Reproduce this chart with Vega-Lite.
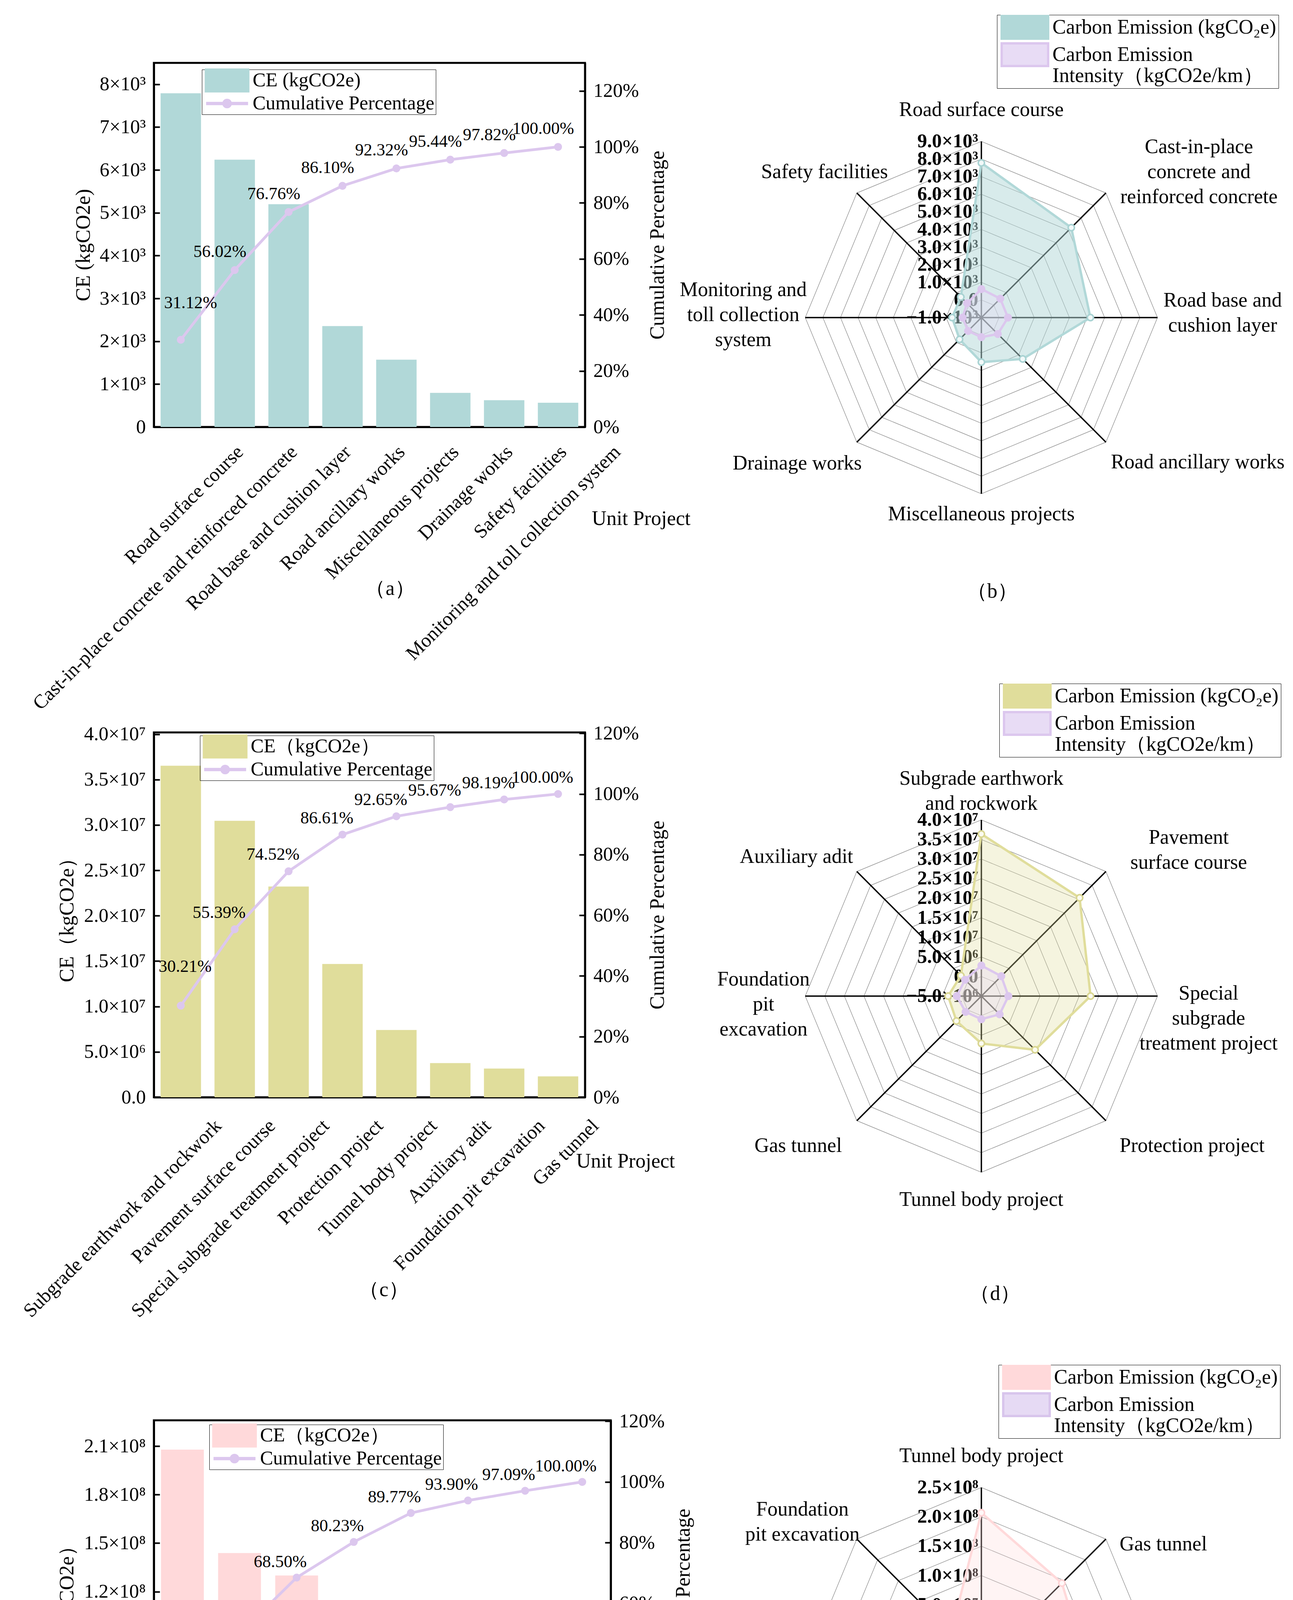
{
  "$schema": "https://vega.github.io/schema/vega-lite/v6.json",
  "background": "white",
  "padding": {"left": 48, "top": 37, "right": 0, "bottom": 0},
  "bounds": "flush",
  "columns": 2,
  "spacing": {"row": 0, "column": 498},
  "resolve": {"scale": {"color": "independent", "fill": "independent", "stroke": "independent"}, "legend": {"color": "independent", "fill": "independent", "stroke": "independent"}},
  "config": {
    "font": "Liberation Serif",
    "view": {"stroke": "#000000", "strokeWidth": 5},
    "axis": {
      "labelFont": "Liberation Serif", "titleFont": "Liberation Serif",
      "labelFontSize": 50, "titleFontSize": 52, "titleFontWeight": "normal",
      "labelColor": "#000000", "titleColor": "#000000",
      "domainColor": "#000000", "domainWidth": 5,
      "tickColor": "#000000", "tickWidth": 4, "grid": false, "labelLimit": 0
    },
    "legend": {"labelFont": "Liberation Serif", "labelColor": "#000000", "labelLimit": 0, "strokeColor": "#000000"},
    "text": {"font": "Liberation Serif", "color": "#000000"}
  },
  "datasets": {
    "a": [
      {"unit": "Road surface course", "ce": 7790, "cum": 31.12},
      {"unit": "Cast-in-place concrete and reinforced concrete", "ce": 6240, "cum": 56.02},
      {"unit": "Road base and cushion layer", "ce": 5200, "cum": 76.76},
      {"unit": "Road ancillary works", "ce": 2355, "cum": 86.10},
      {"unit": "Miscellaneous projects", "ce": 1570, "cum": 92.32},
      {"unit": "Drainage works", "ce": 795, "cum": 95.44},
      {"unit": "Safety facilities", "ce": 625, "cum": 97.82},
      {"unit": "Monitoring and toll collection system", "ce": 565, "cum": 100.00}
    ],
    "c": [
      {"unit": "Subgrade earthwork and rockwork", "ce": 36530000, "cum": 30.21},
      {"unit": "Pavement surface course", "ce": 30460000, "cum": 55.39},
      {"unit": "Special subgrade treatment project", "ce": 23220000, "cum": 74.52},
      {"unit": "Protection project", "ce": 14690000, "cum": 86.61},
      {"unit": "Tunnel body project", "ce": 7410000, "cum": 92.65},
      {"unit": "Auxiliary adit", "ce": 3770000, "cum": 95.67},
      {"unit": "Foundation pit excavation", "ce": 3160000, "cum": 98.19},
      {"unit": "Gas tunnel", "ce": 2300000, "cum": 100.00}
    ],
    "e": [
      {"unit": "Subgrade earthwork and rockwork", "ce": 207900000, "cum": 29.59},
      {"unit": "Pavement surface course", "ce": 143900000, "cum": 50.05},
      {"unit": "Special subgrade treatment project", "ce": 130000000, "cum": 68.50},
      {"unit": "Protection project", "ce": 82800000, "cum": 80.23},
      {"unit": "Tunnel body project", "ce": 67300000, "cum": 89.77},
      {"unit": "Auxiliary adit", "ce": 29400000, "cum": 93.90},
      {"unit": "Foundation pit excavation", "ce": 23200000, "cum": 97.09},
      {"unit": "Gas tunnel", "ce": 21200000, "cum": 100.00}
    ],
    "b": [
      {"i": 0, "unit": "Road surface course", "ce": 7780, "ci": 620},
      {"i": 1, "unit": "Cast-in-place\nconcrete and\nreinforced concrete", "ce": 6220, "ci": 520},
      {"i": 2, "unit": "Road base and\ncushion layer", "ce": 5190, "ci": 510},
      {"i": 3, "unit": "Road ancillary works", "ce": 2320, "ci": 320},
      {"i": 4, "unit": "Miscellaneous projects", "ce": 1530, "ci": 110},
      {"i": 5, "unit": "Drainage works", "ce": 750, "ci": 70},
      {"i": 6, "unit": "Monitoring and\ntoll collection\nsystem", "ce": 660, "ci": 70},
      {"i": 7, "unit": "Safety facilities", "ce": 650, "ci": 150}
    ],
    "d": [
      {"i": 0, "unit": "Subgrade earthwork\nand rockwork", "ce": 36400000, "ci": 2800000},
      {"i": 1, "unit": "Pavement\nsurface course", "ce": 30500000, "ci": 2200000},
      {"i": 2, "unit": "Special\nsubgrade\ntreatment project", "ce": 22900000, "ci": 1900000},
      {"i": 3, "unit": "Protection project", "ce": 14400000, "ci": 1600000},
      {"i": 4, "unit": "Tunnel body project", "ce": 7100000, "ci": 900000},
      {"i": 5, "unit": "Gas tunnel", "ce": 4000000, "ci": 700000},
      {"i": 6, "unit": "Foundation\npit\nexcavation", "ce": 3500000, "ci": 1300000},
      {"i": 7, "unit": "Auxiliary adit", "ce": 2400000, "ci": 900000}
    ],
    "f": [
      {"i": 0, "unit": "Tunnel body project", "ce": 207000000, "ci": 18000000},
      {"i": 1, "unit": "Gas tunnel", "ce": 144000000, "ci": 14500000},
      {"i": 2, "unit": "Monitoring and\ntoll collection\nsystem", "ce": 129000000, "ci": 15000000},
      {"i": 3, "unit": "Protection project", "ce": 83000000, "ci": 8500000},
      {"i": 4, "unit": "Communication pipeline\nand communication system", "ce": 68000000, "ci": 6000000},
      {"i": 5, "unit": "Ventilation and\nfire-fighting facilities", "ce": 32000000, "ci": 4000000},
      {"i": 6, "unit": "Safety\nfacilities", "ce": 25000000, "ci": 3300000},
      {"i": 7, "unit": "Foundation\npit excavation", "ce": 23000000, "ci": 4000000}
    ],
    "bt": [
      {"k": 0, "label": "−1.0×10³"}, {"k": 1, "label": "0.0"}, {"k": 2, "label": "1.0×10³"},
      {"k": 3, "label": "2.0×10³"}, {"k": 4, "label": "3.0×10³"}, {"k": 5, "label": "4.0×10³"},
      {"k": 6, "label": "5.0×10³"}, {"k": 7, "label": "6.0×10³"}, {"k": 8, "label": "7.0×10³"},
      {"k": 9, "label": "8.0×10³"}, {"k": 10, "label": "9.0×10³"}
    ],
    "dt": [
      {"k": 0, "label": "−5.0×10⁶"}, {"k": 1, "label": "0.0"}, {"k": 2, "label": "5.0×10⁶"},
      {"k": 3, "label": "1.0×10⁷"}, {"k": 4, "label": "1.5×10⁷"}, {"k": 5, "label": "2.0×10⁷"},
      {"k": 6, "label": "2.5×10⁷"}, {"k": 7, "label": "3.0×10⁷"}, {"k": 8, "label": "3.5×10⁷"},
      {"k": 9, "label": "4.0×10⁷"}
    ],
    "ft": [
      {"k": 0, "label": "−5.0×10⁷"}, {"k": 1, "label": "0.0"}, {"k": 2, "label": "5.0×10⁷"},
      {"k": 3, "label": "1.0×10⁸"}, {"k": 4, "label": "1.5×10⁸"}, {"k": 5, "label": "2.0×10⁸"},
      {"k": 6, "label": "2.5×10⁸"}
    ]
  },
  "concat": [
    {
      "width": 1104, "height": 932,
      "data": {"name": "a"},
      "encoding": {
        "x": {"field": "unit", "type": "nominal", "sort": null,
          "scale": {"paddingInner": 0.25, "paddingOuter": 0.125},
          "axis": {"title": "Unit Project", "titleX": 1121, "titleY": 234, "titleAlign": "left", "titleBaseline": "middle", "titleAngle": 0,
            "labelAngle": -45, "labelAlign": "right", "labelBaseline": "middle", "labelOffset": 152, "labelPadding": 74,
            "tickSize": -18, "labelOverlap": false, "labelBound": false, "labelFlush": false}}
      },
      "layer": [
        {"layer": [
          {"mark": {"type": "bar"},
           "encoding": {
             "y": {"field": "ce", "type": "quantitative", "scale": {"domain": [0, 8500], "nice": false},
               "axis": {"title": "CE (kgCO2e)", "values": [0, 1000, 2000, 3000, 4000, 5000, 6000, 7000, 8000],
                 "labelExpr": "datum.value == 0 ? '0' : (datum.value / 1000) + '×10³'", "tickSize": -15, "labelPadding": 36, "titlePadding": 14}},
             "color": {"datum": "CE (kgCO2e)",
               "scale": {"domain": ["CE (kgCO2e)", "Cumulative Percentage"], "range": ["#B1D8D8", "#DCC7EE"]},
               "legend": {"title": null, "orient": "none", "legendX": 123, "legendY": 17, "direction": "vertical",
                 "symbolType": "M-2.825,-1.5H2.825V1.5H-2.825Z", "symbolSize": 1600, "symbolOffset": 36.5, "labelFontSize": 50, "labelOffset": 40.5,
                 "rowPadding": 1, "padding": 3, "strokeColor": "#000000",
                 "encode": {"symbols": {"update": {
                   "shape": {"signal": "datum.value == 'Cumulative Percentage' ? 'M-2.65,-0.175H2.65V0.175H-2.65Z M0.575,0A0.575,0.575 0 1,1 -0.575,0A0.575,0.575 0 1,1 0.575,0Z' : 'M-2.825,-1.5H2.825V1.5H-2.825Z'"}}}}}}
           }},
          {"transform": [{"filter": "datum.cum < 40"}],
           "mark": {"type": "text", "fontSize": 52, "dx": -16, "baseline": "middle"},
           "encoding": {"x": {"datum": "Miscellaneous projects"}, "y": {"datum": -3776}, "text": {"value": "（a）"}}}
        ]},
        {"layer": [
          {"mark": {"type": "line", "strokeWidth": 7},
           "encoding": {
             "y": {"field": "cum", "type": "quantitative", "scale": {"domain": [0, 130], "nice": false},
               "axis": {"orient": "right", "title": "Cumulative Percentage", "values": [0, 20, 40, 60, 80, 100, 120],
                 "labelExpr": "datum.value + '%'", "tickSize": -15, "labelPadding": 36, "titlePadding": 23, "titleAngle": 270, "titleBaseline": "top"}},
             "color": {"datum": "Cumulative Percentage"}
           }},
          {"mark": {"type": "point", "filled": true, "size": 415, "color": "#DCC7EE", "opacity": 1},
           "encoding": {"y": {"field": "cum", "type": "quantitative"}}},
          {"transform": [{"calculate": "format(datum.cum, '.2f') + '%'", "as": "lab"}, {"filter": "datum.cum < 40"}],
           "mark": {"type": "text", "fontSize": 44, "dx": 25, "dy": -94},
           "encoding": {"y": {"field": "cum", "type": "quantitative"}, "text": {"field": "lab"}}},
          {"transform": [{"calculate": "format(datum.cum, '.2f') + '%'", "as": "lab"}, {"filter": "datum.cum >= 40"}],
           "mark": {"type": "text", "fontSize": 44, "dx": -38, "dy": -46},
           "encoding": {"y": {"field": "cum", "type": "quantitative"}, "text": {"field": "lab"}}}
        ]}
      ],
      "resolve": {"scale": {"y": "independent"}}
    },
    {
      "width": 902, "height": 1714,
      "view": {"stroke": null},
      "encoding": {
        "x": {"field": "x", "type": "quantitative", "scale": {"domain": [-1, 1], "nice": false, "zero": false}, "axis": null},
        "y": {"field": "y", "type": "quantitative", "scale": {"domain": [-2.3547, 1.4457], "nice": false, "zero": false}, "axis": null}
      },
      "layer": [
        {"data": {"name": "bt"},
         "transform": [{"filter": "datum.k > 0"}, {"calculate": "[0,1,2,3,4,5,6,7]", "as": "v"}, {"flatten": ["v"]},
           {"calculate": "datum.k / 10 * sin(datum.v * PI / 4)", "as": "x"}, {"calculate": "datum.k / 10 * cos(datum.v * PI / 4)", "as": "y"}],
         "mark": {"type": "line", "interpolate": "linear-closed", "stroke": "#8c8c8c", "strokeWidth": 1.3},
         "encoding": {"detail": {"field": "k"}, "order": {"field": "v", "type": "quantitative"}}},
        {"data": {"name": "b"},
         "transform": [{"calculate": "sin(datum.i * PI / 4)", "as": "x"}, {"calculate": "cos(datum.i * PI / 4)", "as": "y"}],
         "mark": {"type": "rule", "color": "#000000", "strokeWidth": 3.5},
         "encoding": {"x2": {"datum": 0}, "y2": {"datum": 0}}},
        {"data": {"name": "bt"},
         "transform": [{"calculate": "0", "as": "x"}, {"calculate": "datum.k / 10", "as": "y"}],
         "mark": {"type": "text", "align": "right", "baseline": "middle", "dx": -8, "fontSize": 50, "fontWeight": "bold"},
         "encoding": {"text": {"field": "label"}}},
        {"data": {"name": "b"},
         "transform": [{"filter": "datum.i == 0"}, {"calculate": "0", "as": "x"}, {"calculate": "1.12", "as": "y"}],
         "mark": {"type": "text", "align": "center", "baseline": "bottom", "fontSize": 52, "lineBreak": "\n", "lineHeight": 64},
         "encoding": {"text": {"field": "unit"}}},
        {"data": {"name": "b"},
         "transform": [{"filter": "datum.i == 4"}, {"calculate": "0", "as": "x"}, {"calculate": "-1.06", "as": "y"}],
         "mark": {"type": "text", "align": "center", "baseline": "top", "fontSize": 52, "lineBreak": "\n", "lineHeight": 64},
         "encoding": {"text": {"field": "unit"}}},
        {"data": {"name": "b"},
         "transform": [{"calculate": "length(split(datum.unit, '\\n'))", "as": "n"}, {"filter": "datum.i >= 1 && datum.i <= 3 && datum.n == 1"},
           {"calculate": "sin(datum.i * PI / 4) * 1.04", "as": "x"},
           {"calculate": "cos(datum.i * PI / 4) * 1.16", "as": "y"}],
         "mark": {"type": "text", "align": "left", "baseline": "middle", "fontSize": 52},
         "encoding": {"text": {"field": "unit"}}},
        {"data": {"name": "b"},
         "transform": [{"calculate": "length(split(datum.unit, '\\n'))", "as": "n"}, {"filter": "datum.i >= 5 && datum.n == 1"},
           {"calculate": "sin(datum.i * PI / 4) * (datum.i == 7 ? 0.75 : 0.96)", "as": "x"},
           {"calculate": "cos(datum.i * PI / 4) * 1.17", "as": "y"}],
         "mark": {"type": "text", "align": "right", "baseline": "middle", "fontSize": 52},
         "encoding": {"text": {"field": "unit"}}},
        {"data": {"name": "b"},
         "transform": [{"calculate": "length(split(datum.unit, '\\n'))", "as": "n"}, {"filter": "datum.i != 0 && datum.i != 4 && datum.n > 1"},
           {"calculate": "sin(datum.i * PI / 4) * (datum.i == 1 ? 1.747 : datum.i == 2 ? 1.37 : 1.352)", "as": "x"},
           {"calculate": "(datum.i == 1 ? 0.827 : datum.i == 2 ? 0.027 : 0.016) + 0.0709 * (datum.n - 1)", "as": "y"}],
         "mark": {"type": "text", "align": "center", "baseline": "middle", "fontSize": 52, "lineBreak": "\n", "lineHeight": 64},
         "encoding": {"text": {"field": "unit"}}},
        {"data": {"name": "b"},
         "transform": [{"calculate": "(datum.ce + 1000) / 10000", "as": "r"},
           {"calculate": "datum.r * sin(datum.i * PI / 4)", "as": "x"}, {"calculate": "datum.r * cos(datum.i * PI / 4)", "as": "y"}],
         "mark": {"type": "line", "interpolate": "linear-closed", "fillOpacity": 0.5, "strokeWidth": 6},
         "encoding": {"order": {"field": "i", "type": "quantitative"},
           "fill": {"datum": "Carbon Emission (kgCO₂e)",
             "scale": {"domain": ["Carbon Emission (kgCO₂e)", "Carbon Emission Intensity（kgCO2e/km）"], "range": ["#B1D8D8", "#E8DCF5"]},
             "legend": {"title": null, "orient": "none", "legendX": 491, "legendY": -123, "direction": "vertical",
               "symbolType": "M-2.975,-1.45H2.975V1.45H-2.975Z", "symbolSize": 1600, "symbolStrokeWidth": 6, "symbolOffset": 39.5,
               "labelFontSize": 52, "labelOffset": 44.5, "rowPadding": -12, "padding": 6, "strokeColor": "#000000",
               "labelExpr": "datum.value == 'Carbon Emission (kgCO₂e)' ? datum.label : ['Carbon Emission', 'Intensity（kgCO2e/km）']",
               "encode": {"labels": {"update": {"dy": {"signal": "datum.value == 'Carbon Emission (kgCO₂e)' ? 0 : 32"}}}}}},
           "stroke": {"datum": "Carbon Emission (kgCO₂e)",
             "scale": {"domain": ["Carbon Emission (kgCO₂e)", "Carbon Emission Intensity（kgCO2e/km）"], "range": ["#B1D8D8", "#DCC7EE"]}}}},
        {"data": {"name": "b"},
         "transform": [{"calculate": "(datum.ce + 1000) / 10000", "as": "r"},
           {"calculate": "datum.r * sin(datum.i * PI / 4)", "as": "x"}, {"calculate": "datum.r * cos(datum.i * PI / 4)", "as": "y"}],
         "mark": {"type": "point", "filled": false, "fill": "#F2F9F9", "stroke": "#A9D3D3", "strokeWidth": 4, "size": 260, "opacity": 1}},
        {"data": {"name": "b"},
         "transform": [{"calculate": "(datum.ci + 1000) / 10000", "as": "r"},
           {"calculate": "datum.r * sin(datum.i * PI / 4)", "as": "x"}, {"calculate": "datum.r * cos(datum.i * PI / 4)", "as": "y"}],
         "mark": {"type": "line", "interpolate": "linear-closed", "fillOpacity": 0.4, "strokeWidth": 6},
         "encoding": {"order": {"field": "i", "type": "quantitative"},
           "fill": {"datum": "Carbon Emission Intensity（kgCO2e/km）"}, "stroke": {"datum": "Carbon Emission Intensity（kgCO2e/km）"}}},
        {"data": {"name": "b"},
         "transform": [{"calculate": "(datum.ci + 1000) / 10000", "as": "r"},
           {"calculate": "datum.r * sin(datum.i * PI / 4)", "as": "x"}, {"calculate": "datum.r * cos(datum.i * PI / 4)", "as": "y"}],
         "mark": {"type": "point", "filled": true, "color": "#DCC7EE", "size": 420, "opacity": 1}},
        {"data": {"name": "b"}, "transform": [{"filter": "datum.i == 0"}, {"calculate": "0.062", "as": "x"}, {"calculate": "-1.554", "as": "y"}],
         "mark": {"type": "text", "fontSize": 52, "baseline": "middle"},
         "encoding": {"text": {"value": "（b）"}}}
      ]
    },
    {
      "width": 1104, "height": 934,
      "data": {"name": "c"},
      "encoding": {
        "x": {"field": "unit", "type": "nominal", "sort": null,
          "scale": {"paddingInner": 0.25, "paddingOuter": 0.125},
          "axis": {"title": "Unit Project", "titleX": 1081, "titleY": 163, "titleAlign": "left", "titleBaseline": "middle", "titleAngle": 0,
            "labelAngle": -45, "labelAlign": "right", "labelBaseline": "middle", "labelOffset": 96, "labelPadding": 83,
            "tickSize": -18, "labelOverlap": false, "labelBound": false, "labelFlush": false}}
      },
      "layer": [
        {"layer": [
          {"mark": {"type": "bar"},
           "encoding": {
             "y": {"field": "ce", "type": "quantitative", "scale": {"domain": [0, 40200000], "nice": false},
               "axis": {"title": "CE（kgCO2e）", "values": [0, 5000000, 10000000, 15000000, 20000000, 25000000, 30000000, 35000000, 40000000],
                 "labelExpr": "datum.value == 0 ? '0.0' : datum.value < 10000000 ? format(datum.value / 1000000, '.1f') + '×10⁶' : format(datum.value / 10000000, '.1f') + '×10⁷'",
                 "tickSize": -15, "labelPadding": 36, "titlePadding": 16}},
             "color": {"datum": "CE（kgCO2e）",
               "scale": {"domain": ["CE（kgCO2e）", "Cumulative Percentage"], "range": ["#E0DD9B", "#DCC7EE"]},
               "legend": {"title": null, "orient": "none", "legendX": 118, "legendY": 8, "direction": "vertical",
                 "symbolType": "M-2.825,-1.5H2.825V1.5H-2.825Z", "symbolSize": 1600, "symbolOffset": 36.5, "labelFontSize": 50, "labelOffset": 40.5,
                 "rowPadding": 1, "padding": 3, "strokeColor": "#000000",
                 "encode": {"symbols": {"update": {
                   "shape": {"signal": "datum.value == 'Cumulative Percentage' ? 'M-2.65,-0.175H2.65V0.175H-2.65Z M0.575,0A0.575,0.575 0 1,1 -0.575,0A0.575,0.575 0 1,1 0.575,0Z' : 'M-2.825,-1.5H2.825V1.5H-2.825Z'"}}}}}}
           }},
          {"transform": [{"filter": "datum.cum < 40"}],
           "mark": {"type": "text", "fontSize": 52, "dx": -32, "baseline": "middle"},
           "encoding": {"x": {"datum": "Tunnel body project"}, "y": {"datum": -21220000}, "text": {"value": "（c）"}}}
        ]},
        {"layer": [
          {"mark": {"type": "line", "strokeWidth": 7},
           "encoding": {
             "y": {"field": "cum", "type": "quantitative", "scale": {"domain": [0, 120.3], "nice": false},
               "axis": {"orient": "right", "title": "Cumulative Percentage", "values": [0, 20, 40, 60, 80, 100, 120],
                 "labelExpr": "datum.value + '%'", "tickSize": -15, "labelPadding": 36, "titlePadding": 23, "titleAngle": 270, "titleBaseline": "top"}},
             "color": {"datum": "Cumulative Percentage"}
           }},
          {"mark": {"type": "point", "filled": true, "size": 415, "color": "#DCC7EE", "opacity": 1},
           "encoding": {"y": {"field": "cum", "type": "quantitative"}}},
          {"transform": [{"calculate": "format(datum.cum, '.2f') + '%'", "as": "lab"}, {"filter": "datum.cum < 40"}],
           "mark": {"type": "text", "fontSize": 44, "dx": 11, "dy": -99},
           "encoding": {"y": {"field": "cum", "type": "quantitative"}, "text": {"field": "lab"}}},
          {"transform": [{"calculate": "format(datum.cum, '.2f') + '%'", "as": "lab"}, {"filter": "datum.cum >= 40"}],
           "mark": {"type": "text", "fontSize": 44, "dx": -40, "dy": -42},
           "encoding": {"y": {"field": "cum", "type": "quantitative"}, "text": {"field": "lab"}}}
        ]}
      ],
      "resolve": {"scale": {"y": "independent"}}
    },
    {
      "width": 902, "height": 1761,
      "view": {"stroke": null},
      "encoding": {
        "x": {"field": "x", "type": "quantitative", "scale": {"domain": [-1, 1], "nice": false, "zero": false}, "axis": null},
        "y": {"field": "y", "type": "quantitative", "scale": {"domain": [-2.408, 1.4967], "nice": false, "zero": false}, "axis": null}
      },
      "layer": [
        {"data": {"name": "dt"},
         "transform": [{"filter": "datum.k > 0"}, {"calculate": "[0,1,2,3,4,5,6,7]", "as": "v"}, {"flatten": ["v"]},
           {"calculate": "datum.k / 9 * sin(datum.v * PI / 4)", "as": "x"}, {"calculate": "datum.k / 9 * cos(datum.v * PI / 4)", "as": "y"}],
         "mark": {"type": "line", "interpolate": "linear-closed", "stroke": "#8c8c8c", "strokeWidth": 1.3},
         "encoding": {"detail": {"field": "k"}, "order": {"field": "v", "type": "quantitative"}}},
        {"data": {"name": "d"},
         "transform": [{"calculate": "sin(datum.i * PI / 4)", "as": "x"}, {"calculate": "cos(datum.i * PI / 4)", "as": "y"}],
         "mark": {"type": "rule", "color": "#000000", "strokeWidth": 3.5},
         "encoding": {"x2": {"datum": 0}, "y2": {"datum": 0}}},
        {"data": {"name": "dt"},
         "transform": [{"calculate": "0", "as": "x"}, {"calculate": "datum.k / 9", "as": "y"}],
         "mark": {"type": "text", "align": "right", "baseline": "middle", "dx": -8, "fontSize": 50, "fontWeight": "bold"},
         "encoding": {"text": {"field": "label"}}},
        {"data": {"name": "d"},
         "transform": [{"filter": "datum.i == 0"}, {"calculate": "0", "as": "x"}, {"calculate": "1.175", "as": "y"}],
         "mark": {"type": "text", "align": "center", "baseline": "bottom", "fontSize": 52, "lineBreak": "\n", "lineHeight": 64},
         "encoding": {"text": {"field": "unit"}}},
        {"data": {"name": "d"},
         "transform": [{"filter": "datum.i == 4"}, {"calculate": "0", "as": "x"}, {"calculate": "-1.1", "as": "y"}],
         "mark": {"type": "text", "align": "center", "baseline": "top", "fontSize": 52, "lineBreak": "\n", "lineHeight": 64},
         "encoding": {"text": {"field": "unit"}}},
        {"data": {"name": "d"},
         "transform": [{"calculate": "length(split(datum.unit, '\\n'))", "as": "n"}, {"filter": "datum.i >= 1 && datum.i <= 3 && datum.n == 1"},
           {"calculate": "sin(datum.i * PI / 4) * 1.11", "as": "x"},
           {"calculate": "cos(datum.i * PI / 4) * 1.2", "as": "y"}],
         "mark": {"type": "text", "align": "left", "baseline": "middle", "fontSize": 52},
         "encoding": {"text": {"field": "unit"}}},
        {"data": {"name": "d"},
         "transform": [{"calculate": "length(split(datum.unit, '\\n'))", "as": "n"}, {"filter": "datum.i >= 5 && datum.n == 1"},
           {"calculate": "sin(datum.i * PI / 4) * (datum.i == 5 ? 1.12 : 1.03)", "as": "x"},
           {"calculate": "cos(datum.i * PI / 4) * (datum.i == 5 ? 1.2 : 1.12)", "as": "y"}],
         "mark": {"type": "text", "align": "right", "baseline": "middle", "fontSize": 52},
         "encoding": {"text": {"field": "unit"}}},
        {"data": {"name": "d"},
         "transform": [{"calculate": "length(split(datum.unit, '\\n'))", "as": "n"}, {"filter": "datum.i != 0 && datum.i != 4 && datum.n > 1"},
           {"calculate": "sin(datum.i * PI / 4) * (datum.i == 1 ? 1.665 : datum.i == 2 ? 1.29 : 1.237)", "as": "x"},
           {"calculate": "(datum.i == 1 ? 0.83 : datum.i == 2 ? -0.126 : -0.047) + 0.0709 * (datum.n - 1)", "as": "y"}],
         "mark": {"type": "text", "align": "center", "baseline": "middle", "fontSize": 52, "lineBreak": "\n", "lineHeight": 64},
         "encoding": {"text": {"field": "unit"}}},
        {"data": {"name": "d"},
         "transform": [{"calculate": "(datum.ce + 5000000) / 45000000", "as": "r"},
           {"calculate": "datum.r * sin(datum.i * PI / 4)", "as": "x"}, {"calculate": "datum.r * cos(datum.i * PI / 4)", "as": "y"}],
         "mark": {"type": "line", "interpolate": "linear-closed", "fillOpacity": 0.32, "strokeWidth": 6},
         "encoding": {"order": {"field": "i", "type": "quantitative"},
           "fill": {"datum": "Carbon Emission (kgCO₂e)",
             "scale": {"domain": ["Carbon Emission (kgCO₂e)", "Carbon Emission Intensity（kgCO2e/km）"], "range": ["#E0DD9B", "#E8DCF5"]},
             "legend": {"title": null, "orient": "none", "legendX": 497, "legendY": -125, "direction": "vertical",
               "symbolType": "M-2.975,-1.45H2.975V1.45H-2.975Z", "symbolSize": 1600, "symbolStrokeWidth": 6, "symbolOffset": 39.5,
               "labelFontSize": 52, "labelOffset": 44.5, "rowPadding": -12, "padding": 6, "strokeColor": "#000000",
               "labelExpr": "datum.value == 'Carbon Emission (kgCO₂e)' ? datum.label : ['Carbon Emission', 'Intensity（kgCO2e/km）']",
               "encode": {"labels": {"update": {"dy": {"signal": "datum.value == 'Carbon Emission (kgCO₂e)' ? 0 : 32"}}}}}},
           "stroke": {"datum": "Carbon Emission (kgCO₂e)",
             "scale": {"domain": ["Carbon Emission (kgCO₂e)", "Carbon Emission Intensity（kgCO2e/km）"], "range": ["#E0DD9B", "#DCC7EE"]}}}},
        {"data": {"name": "d"},
         "transform": [{"calculate": "(datum.ce + 5000000) / 45000000", "as": "r"},
           {"calculate": "datum.r * sin(datum.i * PI / 4)", "as": "x"}, {"calculate": "datum.r * cos(datum.i * PI / 4)", "as": "y"}],
         "mark": {"type": "point", "filled": false, "fill": "#FBFBF0", "stroke": "#D9D692", "strokeWidth": 4, "size": 260, "opacity": 1}},
        {"data": {"name": "d"},
         "transform": [{"calculate": "(datum.ci + 5000000) / 45000000", "as": "r"},
           {"calculate": "datum.r * sin(datum.i * PI / 4)", "as": "x"}, {"calculate": "datum.r * cos(datum.i * PI / 4)", "as": "y"}],
         "mark": {"type": "line", "interpolate": "linear-closed", "fillOpacity": 0.4, "strokeWidth": 6},
         "encoding": {"order": {"field": "i", "type": "quantitative"},
           "fill": {"datum": "Carbon Emission Intensity（kgCO2e/km）"}, "stroke": {"datum": "Carbon Emission Intensity（kgCO2e/km）"}}},
        {"data": {"name": "d"},
         "transform": [{"calculate": "(datum.ci + 5000000) / 45000000", "as": "r"},
           {"calculate": "datum.r * sin(datum.i * PI / 4)", "as": "x"}, {"calculate": "datum.r * cos(datum.i * PI / 4)", "as": "y"}],
         "mark": {"type": "point", "filled": true, "color": "#DCC7EE", "size": 420, "opacity": 1}},
        {"data": {"name": "d"}, "transform": [{"filter": "datum.i == 0"}, {"calculate": "0.078", "as": "x"}, {"calculate": "-1.69", "as": "y"}],
         "mark": {"type": "text", "fontSize": 52, "baseline": "middle"},
         "encoding": {"text": {"value": "（d）"}}}
      ]
    },
    {
      "width": 1170, "height": 935,
      "data": {"name": "e"},
      "encoding": {
        "x": {"field": "unit", "type": "nominal", "sort": null,
          "scale": {"paddingInner": 0.25, "paddingOuter": 0.125},
          "axis": {"title": "Unit Project", "titleX": 1139, "titleY": 215, "titleAlign": "left", "titleBaseline": "middle", "titleAngle": 0,
            "labelAngle": -45, "labelAlign": "right", "labelBaseline": "middle", "labelOffset": 106, "labelPadding": 80,
            "tickSize": -18, "labelOverlap": false, "labelBound": false, "labelFlush": false}}
      },
      "layer": [
        {"layer": [
          {"mark": {"type": "bar"},
           "encoding": {
             "y": {"field": "ce", "type": "quantitative", "scale": {"domain": [0, 226000000], "nice": false},
               "axis": {"title": "CE（kgCO2e）", "values": [0, 30000000, 60000000, 90000000, 120000000, 150000000, 180000000, 210000000],
                 "labelExpr": "datum.value == 0 ? '0.0' : datum.value < 100000000 ? format(datum.value / 10000000, '.1f') + '×10⁷' : format(datum.value / 100000000, '.1f') + '×10⁸'",
                 "tickSize": -15, "labelPadding": 36, "titlePadding": 16}},
             "color": {"datum": "CE（kgCO2e）",
               "scale": {"domain": ["CE（kgCO2e）", "Cumulative Percentage"], "range": ["#FFD9DA", "#DCC7EE"]},
               "legend": {"title": null, "orient": "none", "legendX": 142, "legendY": 11, "direction": "vertical",
                 "symbolType": "M-2.825,-1.5H2.825V1.5H-2.825Z", "symbolSize": 1600, "symbolOffset": 36.5, "labelFontSize": 50, "labelOffset": 40.5,
                 "rowPadding": 1, "padding": 3, "strokeColor": "#000000",
                 "encode": {"symbols": {"update": {
                   "shape": {"signal": "datum.value == 'Cumulative Percentage' ? 'M-2.65,-0.175H2.65V0.175H-2.65Z M0.575,0A0.575,0.575 0 1,1 -0.575,0A0.575,0.575 0 1,1 0.575,0Z' : 'M-2.825,-1.5H2.825V1.5H-2.825Z'"}}}}}}
           }},
          {"transform": [{"filter": "datum.cum < 40"}],
           "mark": {"type": "text", "fontSize": 52, "dx": -11, "baseline": "middle"},
           "encoding": {"x": {"datum": "Tunnel body project"}, "y": {"datum": -122800000}, "text": {"value": "（e）"}}}
        ]},
        {"layer": [
          {"mark": {"type": "line", "strokeWidth": 7},
           "encoding": {
             "y": {"field": "cum", "type": "quantitative", "scale": {"domain": [0, 120.3], "nice": false},
               "axis": {"orient": "right", "title": "Cumulative Percentage", "values": [0, 20, 40, 60, 80, 100, 120],
                 "labelExpr": "datum.value + '%'", "tickSize": -15, "labelPadding": 36, "titlePadding": 23, "titleAngle": 270, "titleBaseline": "top"}},
             "color": {"datum": "Cumulative Percentage"}
           }},
          {"mark": {"type": "point", "filled": true, "size": 415, "color": "#DCC7EE", "opacity": 1},
           "encoding": {"y": {"field": "cum", "type": "quantitative"}}},
          {"transform": [{"calculate": "format(datum.cum, '.2f') + '%'", "as": "lab"}, {"filter": "datum.cum < 40"}],
           "mark": {"type": "text", "fontSize": 44, "dx": 14, "dy": -91},
           "encoding": {"y": {"field": "cum", "type": "quantitative"}, "text": {"field": "lab"}}},
          {"transform": [{"calculate": "format(datum.cum, '.2f') + '%'", "as": "lab"}, {"filter": "datum.cum >= 40"}],
           "mark": {"type": "text", "fontSize": 44, "dx": -42, "dy": -40},
           "encoding": {"y": {"field": "cum", "type": "quantitative"}, "text": {"field": "lab"}}}
        ]}
      ],
      "resolve": {"scale": {"y": "independent"}}
    },
    {
      "width": 902, "height": 1100,
      "view": {"stroke": null},
      "encoding": {
        "x": {"field": "x", "type": "quantitative", "scale": {"domain": [-1, 1], "nice": false, "zero": false}, "axis": null},
        "y": {"field": "y", "type": "quantitative", "scale": {"domain": [-1.0576, 1.3814], "nice": false, "zero": false}, "axis": null}
      },
      "layer": [
        {"data": {"name": "ft"},
         "transform": [{"filter": "datum.k > 0"}, {"calculate": "[0,1,2,3,4,5,6,7]", "as": "v"}, {"flatten": ["v"]},
           {"calculate": "datum.k / 6 * sin(datum.v * PI / 4)", "as": "x"}, {"calculate": "datum.k / 6 * cos(datum.v * PI / 4)", "as": "y"}],
         "mark": {"type": "line", "interpolate": "linear-closed", "stroke": "#8c8c8c", "strokeWidth": 1.3},
         "encoding": {"detail": {"field": "k"}, "order": {"field": "v", "type": "quantitative"}}},
        {"data": {"name": "f"},
         "transform": [{"calculate": "sin(datum.i * PI / 4)", "as": "x"}, {"calculate": "cos(datum.i * PI / 4)", "as": "y"}],
         "mark": {"type": "rule", "color": "#000000", "strokeWidth": 3.5},
         "encoding": {"x2": {"datum": 0}, "y2": {"datum": 0}}},
        {"data": {"name": "ft"},
         "transform": [{"calculate": "0", "as": "x"}, {"calculate": "datum.k / 6", "as": "y"}],
         "mark": {"type": "text", "align": "right", "baseline": "middle", "dx": -8, "fontSize": 50, "fontWeight": "bold"},
         "encoding": {"text": {"field": "label"}}},
        {"data": {"name": "f"},
         "transform": [{"filter": "datum.i == 0"}, {"calculate": "0", "as": "x"}, {"calculate": "1.12", "as": "y"}],
         "mark": {"type": "text", "align": "center", "baseline": "bottom", "fontSize": 52, "lineBreak": "\n", "lineHeight": 64},
         "encoding": {"text": {"field": "unit"}}},
        {"data": {"name": "f"},
         "transform": [{"filter": "datum.i == 4"}, {"calculate": "0.06", "as": "x"}, {"calculate": "-1.05", "as": "y"}],
         "mark": {"type": "text", "align": "center", "baseline": "top", "fontSize": 52, "lineBreak": "\n", "lineHeight": 64},
         "encoding": {"text": {"field": "unit"}}},
        {"data": {"name": "f"},
         "transform": [{"calculate": "length(split(datum.unit, '\\n'))", "as": "n"}, {"filter": "datum.i >= 1 && datum.i <= 3 && datum.n == 1"},
           {"calculate": "sin(datum.i * PI / 4) * 1.11", "as": "x"},
           {"calculate": "cos(datum.i * PI / 4) * (datum.i == 1 ? 0.96 : 1.21)", "as": "y"}],
         "mark": {"type": "text", "align": "left", "baseline": "middle", "fontSize": 52},
         "encoding": {"text": {"field": "unit"}}},
        {"data": {"name": "f"},
         "transform": [{"calculate": "length(split(datum.unit, '\\n'))", "as": "n"}, {"filter": "datum.i != 0 && datum.i != 4 && datum.n > 1"},
           {"calculate": "sin(datum.i * PI / 4) * (datum.i == 2 ? 1.36 : datum.i == 5 ? 1.396 : datum.i == 6 ? 1.237 : 1.437)", "as": "x"},
           {"calculate": "(datum.i == 2 ? -0.027 : datum.i == 5 ? -0.913 : datum.i == 6 ? -0.06 : 0.805) + 0.0709 * (datum.n - 1)", "as": "y"}],
         "mark": {"type": "text", "align": "center", "baseline": "middle", "fontSize": 52, "lineBreak": "\n", "lineHeight": 64},
         "encoding": {"text": {"field": "unit"}}},
        {"data": {"name": "f"},
         "transform": [{"calculate": "(datum.ce + 50000000) / 300000000", "as": "r"},
           {"calculate": "datum.r * sin(datum.i * PI / 4)", "as": "x"}, {"calculate": "datum.r * cos(datum.i * PI / 4)", "as": "y"}],
         "mark": {"type": "line", "interpolate": "linear-closed", "fillOpacity": 0.3, "strokeWidth": 6},
         "encoding": {"order": {"field": "i", "type": "quantitative"},
           "fill": {"datum": "Carbon Emission (kgCO₂e)",
             "scale": {"domain": ["Carbon Emission (kgCO₂e)", "Carbon Emission Intensity（kgCO2e/km）"], "range": ["#FFD9DA", "#E6DAF4"]},
             "legend": {"title": null, "orient": "none", "legendX": 495, "legendY": -142, "direction": "vertical",
               "symbolType": "M-2.975,-1.45H2.975V1.45H-2.975Z", "symbolSize": 1600, "symbolStrokeWidth": 6, "symbolOffset": 39.5,
               "labelFontSize": 52, "labelOffset": 44.5, "rowPadding": -12, "padding": 6, "strokeColor": "#000000",
               "labelExpr": "datum.value == 'Carbon Emission (kgCO₂e)' ? datum.label : ['Carbon Emission', 'Intensity（kgCO2e/km）']",
               "encode": {"labels": {"update": {"dy": {"signal": "datum.value == 'Carbon Emission (kgCO₂e)' ? 0 : 32"}}}}}},
           "stroke": {"datum": "Carbon Emission (kgCO₂e)",
             "scale": {"domain": ["Carbon Emission (kgCO₂e)", "Carbon Emission Intensity（kgCO2e/km）"], "range": ["#FFD9DA", "#D8C5EC"]}}}},
        {"data": {"name": "f"},
         "transform": [{"calculate": "(datum.ce + 50000000) / 300000000", "as": "r"},
           {"calculate": "datum.r * sin(datum.i * PI / 4)", "as": "x"}, {"calculate": "datum.r * cos(datum.i * PI / 4)", "as": "y"}],
         "mark": {"type": "point", "filled": false, "fill": "#FFF8F8", "stroke": "#FFD3D5", "strokeWidth": 4, "size": 260, "opacity": 1}},
        {"data": {"name": "f"},
         "transform": [{"calculate": "(datum.ci + 50000000) / 300000000", "as": "r"},
           {"calculate": "datum.r * sin(datum.i * PI / 4)", "as": "x"}, {"calculate": "datum.r * cos(datum.i * PI / 4)", "as": "y"}],
         "mark": {"type": "line", "interpolate": "linear-closed", "fillOpacity": 0.4, "strokeWidth": 6},
         "encoding": {"order": {"field": "i", "type": "quantitative"},
           "fill": {"datum": "Carbon Emission Intensity（kgCO2e/km）"}, "stroke": {"datum": "Carbon Emission Intensity（kgCO2e/km）"}}},
        {"data": {"name": "f"},
         "transform": [{"calculate": "(datum.ci + 50000000) / 300000000", "as": "r"},
           {"calculate": "datum.r * sin(datum.i * PI / 4)", "as": "x"}, {"calculate": "datum.r * cos(datum.i * PI / 4)", "as": "y"}],
         "mark": {"type": "point", "filled": true, "color": "#D8C5EC", "size": 420, "opacity": 1}},
        {"data": {"name": "f"}, "transform": [{"filter": "datum.i == 0"}, {"calculate": "0.135", "as": "x"}, {"calculate": "-1.789", "as": "y"}],
         "mark": {"type": "text", "fontSize": 52, "baseline": "middle"},
         "encoding": {"text": {"value": "（f）"}}}
      ]
    }
  ]
}
